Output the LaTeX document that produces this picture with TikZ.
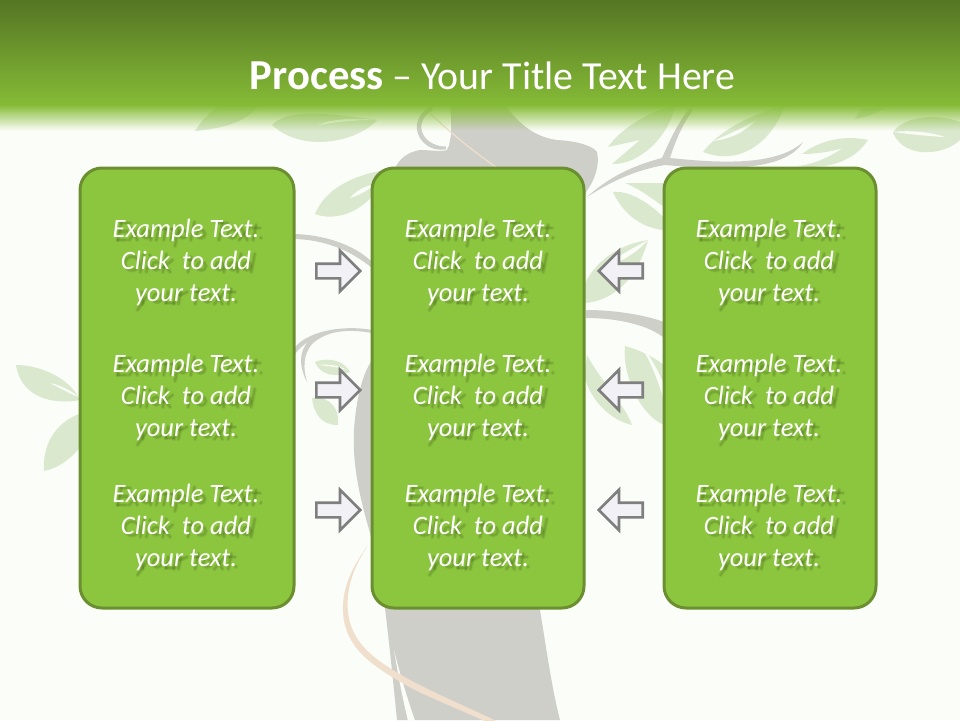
\documentclass[tikz,border=0pt]{standalone}
\usepackage{fontspec}
\setmainfont{Carlito}
\usetikzlibrary{shapes.arrows}
\definecolor{bgc}{HTML}{FBFDF8}
\definecolor{leafc}{HTML}{DAE8CE}
\definecolor{trunkc}{HTML}{CFCFC9}
\definecolor{ribbonc}{HTML}{F0DFCD}
\definecolor{boxfill}{HTML}{8CC63F}
\definecolor{boxline}{HTML}{6B8F30}
\definecolor{arrowfill}{HTML}{F1F1F6}
\definecolor{arrowline}{HTML}{7F7F7F}
\definecolor{headtop}{HTML}{557524}
\definecolor{headbot}{HTML}{85BB36}
\definecolor{shadowc}{HTML}{3F5A18}
\tikzset{
  x=1pt,y=-1pt,
  leaf/.style={fill=leafc,draw=none},
  vein/.style={fill=bgc,draw=none},
  trunk/.style={fill=trunkc,draw=none},
  ribbon/.style={fill=ribbonc,draw=none},
  panel/.style={draw=boxline,line width=3pt,fill=boxfill,rounded corners=22pt,minimum height=440pt,inner sep=0pt},
  blocktext/.style={align=center,text=white,font=\shfont,inner sep=0pt},
  softa/.style={draw=shadowc,line width=4.2pt,draw opacity=.10,line cap=round,fill=none},
  softb/.style={draw=shadowc,line width=2.2pt,draw opacity=.20,line cap=round,fill=none},
  blockarrow/.style={single arrow,draw=arrowline,fill=arrowfill,line width=2.6pt,minimum height=44pt,minimum width=39pt,inner xsep=0pt,inner ysep=6pt,single arrow tip angle=90,single arrow head extend=13pt,anchor=tail},
}
\newcommand{\shfont}{\fontsize{26.5}{32}\selectfont\itshape}
\newlength\shw \newlength\shcur \newlength\shtot
\newcommand{\shoffx}{2.5}\newcommand{\shoffy}{3}
% drop shadow of the lettering, drawn as soft strokes that follow the letters
\newcommand{\shseg}[4]{%
  \draw[softa] (\shcur+\shoffx pt+#1*\shw+.2*#2 pt,\by+\shoffy-#2) -- (\shcur+\shoffx pt+#3*\shw+.2*#4 pt,\by+\shoffy-#4);
  \draw[softb] (\shcur+\shoffx pt+#1*\shw+.2*#2 pt,\by+\shoffy-#2) -- (\shcur+\shoffx pt+#3*\shw+.2*#4 pt,\by+\shoffy-#4);}
\newcommand{\shbowl}[3]{%
  \draw[softa] (\shcur+\shoffx pt+#1*\shw+.2*#2 pt,\by+\shoffy-#2) circle[radius=#3];
  \draw[softb] (\shcur+\shoffx pt+#1*\shw+.2*#2 pt,\by+\shoffy-#2) circle[radius=#3];}
\newcommand{\shmeasure}[2]{\setbox0=\hbox{\pgfinterruptpicture\shfont #2\endpgfinterruptpicture}\global#1=\wd0\relax}
\newcommand{\shg}[2]{\shmeasure\shw{#1}#2\global\advance\shcur by\shw\relax}
\newcommand{\shstart}[3]{\shmeasure\shtot{#1}\global\shcur=#2pt\global\advance\shcur by-.5\shtot\def\by{#3}}
\newcommand{\shadowlines}[2]{%
  \pgfmathsetmacro\ya{#2-24}\pgfmathsetmacro\yb{#2+8}\pgfmathsetmacro\yc{#2+40}%
  \shstart{Example Text.}{#1}{\ya}%
  \shg{E}{\shseg{.2}{0}{.2}{17}\shseg{.2}{0}{.85}{0}\shseg{.2}{8.5}{.8}{8.5}\shseg{.2}{17}{.9}{17}}%
  \shg{x}{\shseg{.1}{0}{.8}{12}\shseg{.1}{12}{.8}{0}}%
  \shg{a}{\shbowl{.4}{6}{4}\shseg{.8}{0}{.8}{12}}%
  \shg{m}{\shseg{.15}{0}{.15}{12}\shseg{.5}{0}{.5}{11}\shseg{.85}{0}{.85}{11}\shseg{.15}{11}{.85}{11}}%
  \shg{p}{\shseg{.15}{-6}{.15}{12}\shbowl{.55}{6}{4}}%
  \shg{l}{\shseg{.5}{0}{.5}{18}}%
  \shg{e}{\shbowl{.45}{6}{4.2}}%
  \shg{\ }{}%
  \shg{T}{\shseg{.1}{17}{.9}{17}\shseg{.5}{0}{.5}{17}}%
  \shg{e}{\shbowl{.45}{6}{4.2}}%
  \shg{x}{\shseg{.1}{0}{.8}{12}\shseg{.1}{12}{.8}{0}}%
  \shg{t}{\shseg{.4}{0}{.4}{15}\shseg{.1}{12}{.9}{12}}%
  \shg{.}{\shseg{.3}{2}{.3}{2.5}}%
  \shstart{Click\ \ to add}{#1}{\yb}%
  \shg{C}{\shbowl{.5}{8.5}{7}}%
  \shg{l}{\shseg{.5}{0}{.5}{18}}%
  \shg{i}{\shseg{.5}{0}{.5}{12}\shseg{.5}{16.5}{.5}{17}}%
  \shg{c}{\shbowl{.5}{6}{4}}%
  \shg{k}{\shseg{.2}{0}{.2}{18}\shseg{.2}{5}{.8}{12}\shseg{.3}{6}{.8}{0}}%
  \shg{\ }{}\shg{\ }{}%
  \shg{t}{\shseg{.4}{0}{.4}{15}\shseg{.1}{12}{.9}{12}}%
  \shg{o}{\shbowl{.5}{6}{4.4}}%
  \shg{\ }{}%
  \shg{a}{\shbowl{.4}{6}{4}\shseg{.8}{0}{.8}{12}}%
  \shg{d}{\shbowl{.4}{6}{4}\shseg{.8}{0}{.8}{18}}%
  \shg{d}{\shbowl{.4}{6}{4}\shseg{.8}{0}{.8}{18}}%
  \shstart{your text.}{#1}{\yc}%
  \shg{y}{\shseg{.2}{12}{.45}{0}\shseg{.85}{12}{.1}{-6}}%
  \shg{o}{\shbowl{.5}{6}{4.4}}%
  \shg{u}{\shseg{.2}{1}{.2}{12}\shseg{.8}{0}{.8}{12}\shseg{.2}{1}{.8}{1}}%
  \shg{r}{\shseg{.2}{0}{.2}{12}\shseg{.2}{9}{.9}{12}}%
  \shg{\ }{}%
  \shg{t}{\shseg{.4}{0}{.4}{15}\shseg{.1}{12}{.9}{12}}%
  \shg{e}{\shbowl{.45}{6}{4.2}}%
  \shg{x}{\shseg{.1}{0}{.8}{12}\shseg{.1}{12}{.8}{0}}%
  \shg{t}{\shseg{.4}{0}{.4}{15}\shseg{.1}{12}{.9}{12}}%
  \shg{.}{\shseg{.3}{2}{.3}{2.5}}%
}
\newcommand{\exblock}[3]{%
  \shadowlines{#2}{#3}%
  \node[blocktext] (#1) at (#2,#3+1) {Example Text.\\Click\ \ to add\\your text.};
}
\begin{document}
\begin{tikzpicture}
\useasboundingbox (0,0) rectangle (960,720);
\fill[bgc] (0,0) rectangle (960,720);
% trunk
\fill[trunk] (395,168) .. controls (400,158) and (408,152) .. (420,150) .. controls (430,150) and (440,152) .. (447,150) .. controls (452,140) and (452,125) .. (450,105) -- (505,105) .. controls (520,125) and (535,137) .. (557,140) .. controls (575,141) and (592,145) .. (597,152) .. controls (600,165) and (595,180) .. (586,192) -- (560,300) -- (540,610) .. controls (545,640) and (552,690) .. (560,720) -- (397,720) .. controls (394,690) and (390,650) .. (385,608) -- (372,540) .. controls (362,505) and (352,470) .. (354,430) .. controls (356,400) and (362,375) .. (372,360) -- (395,300) -- cycle;
\draw[trunkc,line width=4.5pt] (446,147) .. controls (432,150) and (420,140) .. (419,128) .. controls (419,118) and (425,112) .. (432,108);
\fill[bgc] (449,146) .. controls (436,149) and (423,138) .. (422,128) .. controls (422,119) and (428,112) .. (449,108) -- cycle;
\fill[bgc] (394,650) .. controls (398,675) and (403,700) .. (408,721) -- (415,721) .. controls (408,700) and (400,675) .. (394,650) -- cycle;
\fill[ribbon] (368,545) .. controls (350,570) and (342,590) .. (343,612) .. controls (345,650) and (375,668) .. (415,690) .. controls (440,702) and (465,712) .. (487,722) -- (498,722) .. controls (470,708) and (440,696) .. (410,680) .. controls (375,660) and (352,645) .. (348,612) .. controls (346,590) and (352,570) .. (368,545) -- cycle;
\draw[ribbonc,line width=1.2pt] (430,113) .. controls (445,128) and (465,145) .. (497,168);
% branches
\fill[trunk] (587,197) .. controls (610,176) and (635,165) .. (662,158) .. controls (670,140) and (678,122) .. (690,108) -- (693,110) .. controls (682,125) and (675,142) .. (670,158) .. controls (710,162) and (775,168) .. (803,142) .. controls (785,172) and (720,170) .. (665,165) .. controls (635,170) and (610,182) .. (587,197) -- cycle;
\fill[trunk] (295,234) .. controls (325,235) and (355,245) .. (372,262) -- (372,268) .. controls (350,250) and (325,240) .. (295,239) -- cycle;
\fill[trunk] (295,347) .. controls (310,330) and (345,325) .. (372,330) -- (372,333) .. controls (345,328) and (325,332) .. (312,344) .. controls (303,355) and (303,368) .. (307,382) .. controls (298,365) and (300,350) .. (308,342) .. controls (303,345) and (298,350) .. (295,354) -- cycle;
\fill[trunk] (586,310) .. controls (615,310) and (645,315) .. (664,322) -- (664,338) .. controls (650,326) and (620,318) .. (586,318) -- cycle;
% leaves
\path[leaf] (195,131) .. controls (205,115) and (215,108) .. (230,100) -- (262,100) .. controls (250,122) and (225,128) .. (195,131) -- cycle;
\path[leaf] (272,125) .. controls (285,112) and (310,110) .. (377,120) .. controls (360,140) and (305,155) .. (272,125) -- cycle;
\path[vein] (318,125) .. controls (335,118) and (355,118) .. (377,120) .. controls (355,120) and (335,122) .. (318,125) -- cycle;
\path[leaf] (315,214) .. controls (325,190) and (350,176) .. (385,170) .. controls (380,200) and (345,225) .. (315,214) -- cycle;
\path[vein] (350,198) .. controls (357,190) and (365,186) .. (376,184) .. controls (368,190) and (360,195) .. (350,198) -- cycle;
\path[leaf] (16,365) .. controls (40,365) and (70,378) .. (80,400) .. controls (60,404) and (22,402) .. (16,365) -- cycle;
\path[vein] (50,383) .. controls (60,385) and (70,390) .. (79,397) .. controls (70,394) and (60,388) .. (50,383) -- cycle;
\path[leaf] (44,471) .. controls (42,440) and (60,420) .. (82,413) -- (82,445) .. controls (70,460) and (58,468) .. (44,471) -- cycle;
\path[leaf] (315,362) .. controls (330,356) and (345,362) .. (350,372) .. controls (335,378) and (320,375) .. (315,362) -- cycle;
\path[vein] (318,365) .. controls (328,364) and (338,365) .. (347,370) .. controls (338,367) and (328,366) .. (318,365) -- cycle;
\path[leaf] (312,398) .. controls (330,395) and (340,410) .. (338,425) .. controls (322,425) and (314,415) .. (312,398) -- cycle;
\path[leaf] (608,147) .. controls (620,130) and (645,113) .. (675,105) .. controls (670,135) and (640,165) .. (612,164) -- (640,140) -- cycle;
\path[leaf] (703,152) .. controls (720,130) and (750,115) .. (785,105) .. controls (775,135) and (745,168) .. (703,152) -- cycle;
\path[vein] (713,141) .. controls (728,135) and (742,128) .. (755,121) .. controls (745,132) and (730,139) .. (713,141) -- cycle;
\path[leaf] (802,154) .. controls (820,140) and (845,135) .. (868,140) .. controls (855,160) and (830,170) .. (797,166) .. controls (810,165) and (825,160) .. (843,148) .. controls (830,152) and (815,154) .. (802,154) -- cycle;
\path[leaf] (893,133) .. controls (900,118) and (935,112) .. (960,122) -- (960,140) .. controls (945,155) and (905,160) .. (893,133) -- cycle;
\path[vein] (893,132) .. controls (910,130) and (930,132) .. (945,137) .. controls (925,136) and (910,134) .. (893,132) -- cycle;
\path[leaf] (855,119) -- (862,108) -- (885,108) .. controls (875,114) and (865,117) .. (855,119) -- cycle;
\path[leaf] (613,192) .. controls (630,190) and (652,205) .. (664,218) -- (664,230) .. controls (640,228) and (622,212) .. (613,192) -- cycle;
\path[leaf] (625,183) -- (664,183) -- (664,207) .. controls (650,197) and (638,188) .. (625,183) -- cycle;
\path[leaf] (648,240) .. controls (640,270) and (620,300) .. (585,303) -- (580,295) .. controls (590,265) and (615,245) .. (648,240) -- cycle;
\path[vein] (598,270) .. controls (610,262) and (625,252) .. (648,240) .. controls (635,255) and (615,265) .. (598,270) -- cycle;
\path[leaf] (625,346) .. controls (622,375) and (640,415) .. (664,425) -- (664,365) .. controls (655,358) and (640,350) .. (625,346) -- cycle;
\path[vein] (637,341) .. controls (648,355) and (656,375) .. (664,400) -- (664,385) .. controls (658,370) and (650,355) .. (637,341) -- cycle;
\path[leaf] (587,355) .. controls (600,380) and (625,405) .. (632,425) .. controls (610,420) and (590,400) .. (584,375) -- cycle;
% header
\shade[top color=headtop,bottom color=headbot] (0,0) rectangle (960,105);
\foreach \i in {0,...,25}{
  \pgfmathsetmacro{\op}{1-(\i+.5)/26}
  \fill[headbot,fill opacity=\op] (0,105+\i) rectangle (960,106+\i);
}
\node[text=white,font=\fontsize{39.8}{44}\selectfont,inner sep=0pt] (title) at (492.5,76) {{\fontsize{42.7}{44}\selectfont\bfseries Process} – Your Title Text Here};
% panels
\node[panel,minimum width=214pt] (left) at (187,388) {};
\node[panel,minimum width=212pt] (mid) at (478,388) {};
\node[panel,minimum width=212pt] (right) at (770,388) {};
\exblock{la}{186}{261}
\exblock{lb}{186}{396}
\exblock{lc}{186}{526}
\exblock{ma}{478}{261}
\exblock{mb}{478}{396}
\exblock{mc}{478}{526}
\exblock{ra}{769}{261}
\exblock{rb}{769}{396}
\exblock{rc}{769}{526}
% arrows
\node[blockarrow] (ar1) at (315,271) {};
\node[blockarrow] (ar2) at (315,390) {};
\node[blockarrow] (ar3) at (315,510) {};
\node[blockarrow,shape border rotate=180] (al1) at (644,271) {};
\node[blockarrow,shape border rotate=180] (al2) at (644,390) {};
\node[blockarrow,shape border rotate=180] (al3) at (644,510) {};
\end{tikzpicture}
\end{document}
